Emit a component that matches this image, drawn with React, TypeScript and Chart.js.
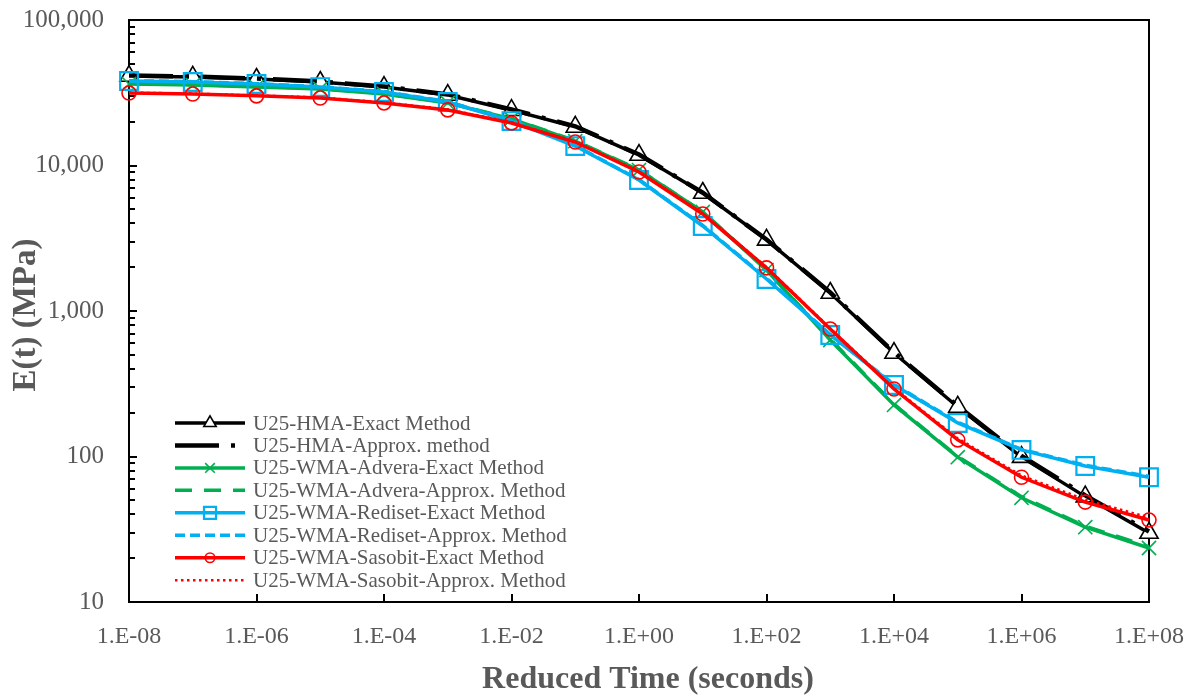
import React, { useEffect, useRef } from 'react';
import { Chart, registerables } from 'chart.js';
import { drawPoint } from 'chart.js/helpers';

Chart.register(...registerables);

// ---- data ----
const reducedTime = [1e-8, 1e-7, 1e-6, 1e-5, 1e-4, 1e-3, 1e-2, 1e-1, 1e0, 1e1, 1e2, 1e3, 1e4, 1e5, 1e6, 1e7, 1e8];

const hmaExact = [41200, 40600, 39300, 37500, 34600, 30500, 24000, 18400, 11800, 6470, 3080, 1330, 514, 219, 99, 53, 29.8];
const hmaApprox = [41500, 40900, 39600, 37800, 34900, 30800, 24300, 18600, 11900, 6500, 3100, 1340, 520, 222, 101, 54, 30.5];
const adveraExact = [36300, 35700, 34600, 33600, 31000, 26900, 20900, 14700, 9300, 4790, 1910, 632, 226, 99, 52, 32.7, 23.5];
const adveraApprox = [36600, 36000, 34900, 33800, 31200, 27100, 21000, 14800, 9350, 4800, 1920, 640, 229, 100, 53, 33.2, 24.0];
const redisetExact = [38100, 37500, 36300, 34600, 32000, 27300, 20200, 13600, 7950, 3840, 1660, 684, 310, 170, 111, 86, 72];
const redisetApprox = [38300, 37700, 36500, 34800, 32200, 27500, 20400, 13700, 8000, 3870, 1680, 690, 313, 172, 112, 87, 73];
const sasobitExact = [31500, 31000, 30100, 29100, 26900, 24100, 19600, 14500, 9020, 4640, 1980, 752, 291, 130, 72, 48.6, 36.6];
const sasobitApprox = [31700, 31200, 30300, 29300, 27100, 24300, 19800, 14600, 9100, 4680, 2000, 760, 295, 133, 74, 50.5, 38.0];

const seriesLabels = [
  'U25-HMA-Exact Method',
  'U25-HMA-Approx. method',
  'U25-WMA-Advera-Exact Method',
  'U25-WMA-Advera-Approx. Method',
  'U25-WMA-Rediset-Exact Method',
  'U25-WMA-Rediset-Approx. Method',
  'U25-WMA-Sasobit-Exact Method',
  'U25-WMA-Sasobit-Approx. Method',
];

const xTickValues = [1e-8, 1e-6, 1e-4, 1e-2, 1e0, 1e2, 1e4, 1e6, 1e8];
const xTickLabels = ['1.E-08', '1.E-06', '1.E-04', '1.E-02', '1.E+00', '1.E+02', '1.E+04', '1.E+06', '1.E+08'];
const yTickValues = [10, 100, 1000, 10000, 100000];
const yTickLabels = ['10', '100', '1,000', '10,000', '100,000'];
const yMinorMultipliers = [2, 3, 4, 5, 6, 7, 8, 9];

const xTitle = 'Reduced Time (seconds)';
const yTitle = 'E(t) (MPa)';

const FONT = '"Liberation Serif", "Times New Roman", serif';
const TEXT = '#595959';
const BLACK = '#000000';
const GREEN = '#00B050';
const BLUE = '#00B0F0';
const RED = '#FF0000';

const toPoints = (ys: number[]) => reducedTime.map((x, i) => ({ x, y: ys[i] }));

const framePlugin = {
  id: 'frameTicks',
  beforeDatasetsDraw(chart: any) {
    const { ctx, chartArea } = chart;
    const xs = chart.scales.x;
    const ys = chart.scales.y;
    ctx.save();
    ctx.strokeStyle = '#000';
    ctx.lineWidth = 2;
    ctx.beginPath();
    yTickValues.forEach((v) => {
      const py = Math.round(ys.getPixelForValue(v));
      ctx.moveTo(chartArea.left, py);
      ctx.lineTo(chartArea.left + 8, py);
    });
    for (let d = 0; d < yTickValues.length - 1; d++) {
      yMinorMultipliers.forEach((m) => {
        const py = Math.round(ys.getPixelForValue(yTickValues[d] * m));
        ctx.moveTo(chartArea.left, py);
        ctx.lineTo(chartArea.left + 6, py);
      });
    }
    xTickValues.forEach((v) => {
      const px = Math.round(xs.getPixelForValue(v));
      ctx.moveTo(px, chartArea.bottom);
      ctx.lineTo(px, chartArea.bottom - 8);
    });
    ctx.stroke();
    ctx.strokeRect(chartArea.left, chartArea.top, chartArea.right - chartArea.left, chartArea.bottom - chartArea.top);

    // axis titles
    ctx.fillStyle = TEXT;
    ctx.textAlign = 'center';
    ctx.textBaseline = 'middle';
    ctx.font = `bold 32px ${FONT}`;
    ctx.fillText(xTitle, 648, 680);
    ctx.translate(26, 315);
    ctx.rotate(-Math.PI / 2);
    ctx.font = `bold 33px ${FONT}`;
    ctx.fillText(yTitle, 0, 0);
    ctx.restore();
  },
};

const legendPlugin = {
  id: 'insideLegend',
  afterDraw(chart: any) {
    const { ctx, chartArea } = chart;
    const x0 = chartArea.left + 46;
    const x1 = x0 + 70;
    const tx = x1 + 8;
    const top = 423;
    const step = 22.45;
    chart.data.datasets.forEach((ds: any, i: number) => {
      const cy = top + i * step;
      ctx.save();
      ctx.strokeStyle = ds.borderColor;
      ctx.lineWidth = ds.borderWidth;
      ctx.lineCap = ds.borderCapStyle || 'butt';
      ctx.setLineDash(ds.borderDash || []);
      ctx.beginPath();
      ctx.moveTo(x0, cy);
      ctx.lineTo(x1, cy);
      ctx.stroke();
      ctx.setLineDash([]);
      if (ds.pointRadius > 0) {
        ctx.fillStyle = ds.pointBackgroundColor;
        ctx.strokeStyle = ds.pointBorderColor;
        ctx.lineWidth = ds.pointBorderWidth;
        drawPoint(ctx, { pointStyle: ds.pointStyle, rotation: 0, radius: ds.pointRadius * 0.68, borderWidth: ds.pointBorderWidth }, (x0 + x1) / 2, cy);
      }
      ctx.fillStyle = TEXT;
      ctx.font = `21px ${FONT}`;
      ctx.textBaseline = 'middle';
      ctx.textAlign = 'left';
      ctx.fillText(ds.label, tx, cy + 1);
      ctx.restore();
    });
  },
};

export default function App() {
  const ref = useRef<HTMLCanvasElement | null>(null);

  useEffect(() => {
    if (!ref.current) return;
    const common = { showLine: true, tension: 0, fill: false, clip: false };
    const chart = new Chart(ref.current, {
      type: 'scatter',
      data: {
        datasets: [
          {
            ...common, label: seriesLabels[0], data: toPoints(hmaExact), order: 7,
            borderColor: BLACK, borderWidth: 3.5,
            pointStyle: 'triangle', pointRadius: 10.5, pointBorderColor: BLACK, pointBackgroundColor: '#FFFFFF', pointBorderWidth: 1.6,
          },
          {
            ...common, label: seriesLabels[1], data: toPoints(hmaApprox), order: 6,
            borderColor: BLACK, borderWidth: 4.5, borderDash: [44, 12, 4, 12],
            pointRadius: 0,
          },
          {
            ...common, label: seriesLabels[2], data: toPoints(adveraExact), order: 5,
            borderColor: GREEN, borderWidth: 3.5,
            pointStyle: 'crossRot', pointRadius: 10, pointBorderColor: GREEN, pointBackgroundColor: GREEN, pointBorderWidth: 1.6,
          },
          {
            ...common, label: seriesLabels[3], data: toPoints(adveraApprox), order: 4,
            borderColor: GREEN, borderWidth: 3.5, borderDash: [17, 12],
            pointRadius: 0,
          },
          {
            ...common, label: seriesLabels[4], data: toPoints(redisetExact), order: 3,
            borderColor: BLUE, borderWidth: 3.5,
            pointStyle: 'rect', pointRadius: 12.5, pointBorderColor: BLUE, pointBackgroundColor: 'rgba(0,0,0,0)', pointBorderWidth: 2.2,
          },
          {
            ...common, label: seriesLabels[5], data: toPoints(redisetApprox), order: 2,
            borderColor: BLUE, borderWidth: 3.5, borderDash: [10, 5],
            pointRadius: 0,
          },
          {
            ...common, label: seriesLabels[6], data: toPoints(sasobitExact), order: 1,
            borderColor: RED, borderWidth: 3.5,
            pointStyle: 'circle', pointRadius: 7, pointBorderColor: RED, pointBackgroundColor: 'rgba(0,0,0,0)', pointBorderWidth: 1.6,
          },
          {
            ...common, label: seriesLabels[7], data: toPoints(sasobitApprox), order: 0,
            borderColor: RED, borderWidth: 2.5, borderDash: [2.5, 3.5],
            pointRadius: 0,
          },
        ] as any,
      },
      options: {
        animation: false,
        responsive: false,
        maintainAspectRatio: false,
        devicePixelRatio: 1,
        layout: { padding: { top: 20, right: 49, left: 0, bottom: 0 } },
        plugins: { legend: { display: false }, tooltip: { enabled: false } },
        scales: {
          x: {
            type: 'logarithmic',
            min: 1e-8,
            max: 1e8,
            afterBuildTicks: (s: any) => { s.ticks = xTickValues.map((v) => ({ value: v })); },
            afterFit: (s: any) => {
              s.height = 97;
              s.paddingLeft = 0; s.paddingRight = 0; s.paddingTop = 0; s.paddingBottom = 0;
            },
            ticks: {
              autoSkip: false, maxRotation: 0, minRotation: 0, padding: 20,
              color: TEXT, font: { family: FONT, size: 24 },
              callback: (_v: any, i: number) => xTickLabels[i],
            },
            grid: { display: false, drawTicks: false },
            border: { display: false },
            title: { display: false },
          },
          y: {
            type: 'logarithmic',
            min: 10,
            max: 100000,
            afterBuildTicks: (s: any) => { s.ticks = yTickValues.map((v) => ({ value: v })); },
            afterFit: (s: any) => {
              s.width = 129;
              s.paddingLeft = 0; s.paddingRight = 0; s.paddingTop = 0; s.paddingBottom = 0;
            },
            ticks: {
              autoSkip: false, padding: 25,
              color: TEXT, font: { family: FONT, size: 25 },
              callback: (_v: any, i: number) => yTickLabels[i],
            },
            grid: { display: false, drawTicks: false },
            border: { display: false },
            title: { display: false },
          },
        },
      } as any,
      plugins: [framePlugin, legendPlugin],
    });
    return () => chart.destroy();
  }, []);

  return (
    <div style={{ position: 'absolute', left: 0, top: 0, width: 1198, height: 699, background: '#fff' }}>
      <canvas ref={ref} width={1198} height={699} style={{ width: 1198, height: 699, display: 'block' }} />
    </div>
  );
}
